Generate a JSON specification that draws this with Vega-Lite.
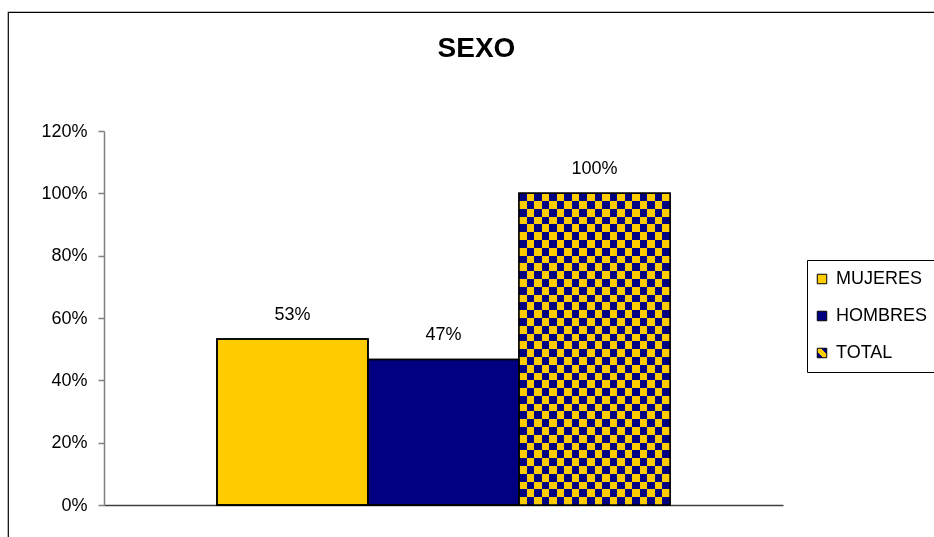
{
  "$schema": "https://vega.github.io/schema/vega-lite/v6.json",
  "autosize": "none",
  "width": 929,
  "height": 528,
  "padding": {"left": 8, "top": 12, "right": -3, "bottom": -3},
  "background": "white",
  "title": {"text": "SEXO", "font": "Liberation Sans", "fontSize": 28, "fontWeight": "bold", "color": "black", "anchor": "middle", "baseline": "alphabetic", "offset": -73, "dx": 4},
  "data": {"values": [
    {"sexo": "MUJERES", "pct": 0.533},
    {"sexo": "HOMBRES", "pct": 0.467},
    {"sexo": "TOTAL", "pct": 1.0}
  ]},
  "encoding": {
    "x": {"field": "sexo", "type": "nominal", "sort": null,
      "scale": {"type": "band", "domain": ["MUJERES", "HOMBRES", "TOTAL"], "range": [96, 775], "paddingInner": 0, "paddingOuter": 0.748, "align": 0.5},
      "axis": {"orient": "bottom", "offset": -35, "labels": false, "ticks": false, "title": null, "domainColor": "#404040", "domainWidth": 1.5, "grid": false}},
    "y": {"field": "pct", "type": "quantitative",
      "scale": {"domain": [0, 1.2], "range": [493, 119], "nice": false, "zero": true},
      "axis": {"orient": "left", "offset": -96, "values": [0, 0.2, 0.4, 0.6, 0.8, 1.0, 1.2], "format": ".0%", "title": null, "grid": false,
        "domainColor": "#808080", "domainWidth": 1.5, "tickColor": "#808080", "tickWidth": 1.5, "tickSize": 6,
        "labelFont": "Liberation Sans", "labelFontSize": 18, "labelColor": "black", "labelPadding": 11}}
  },
  "layer": [
    {
      "mark": {"type": "bar", "stroke": "black", "strokeWidth": 1.5},
      "encoding": {
        "color": {"field": "sexo", "type": "nominal",
          "scale": {"domain": ["MUJERES", "HOMBRES", "TOTAL"], "range": ["#FFCC00", "#000080", {"expr": "{gradient: 'linear', x1: 1, y1: 0, x2: 0, y2: 1, stops: [{offset: 0, color: '#000080'}, {offset: 0.3, color: '#000080'}, {offset: 0.3, color: '#FFCC00'}, {offset: 0.7, color: '#FFCC00'}, {offset: 0.7, color: '#000080'}, {offset: 1, color: '#000080'}]}"}]},
          "legend": {
            "orient": "none", "legendX": 799, "legendY": 248, "title": null,
            "symbolType": "square", "symbolSize": 90, "symbolStrokeColor": "black", "symbolStrokeWidth": 1,
            "symbolOffset": -4,
            "labelFont": "Liberation Sans", "labelFontSize": 18, "labelColor": "black", "labelOffset": 5,
            "rowPadding": 19, "padding": 10, "strokeColor": "black", "fillColor": "white",
            "encode": {"symbols": {"update": {
              "stroke": {"value": "black"},
              "strokeWidth": {"value": 1}
            }}}
          }}
      }
    },
    {
      "transform": [{"filter": "datum.sexo === 'TOTAL'"}],
      "mark": {"type": "bar", "fill": "#FFCC00", "strokeWidth": 0}
    },
    {
      "transform": [{"filter": "datum.sexo === 'TOTAL'"}],
      "mark": {"type": "bar", "blend": "difference", "strokeWidth": 0, "fill": {"gradient": "linear", "x1": 0, "y1": 0, "x2": 1, "y2": 0, "stops": [
        {"offset":0,"color":"#FFCC80"},{"offset":0.05,"color":"#FFCC80"},
        {"offset":0.05,"color":"#000000"},{"offset":0.1,"color":"#000000"},
        {"offset":0.1,"color":"#FFCC80"},{"offset":0.15,"color":"#FFCC80"},
        {"offset":0.15,"color":"#000000"},{"offset":0.2,"color":"#000000"},
        {"offset":0.2,"color":"#FFCC80"},{"offset":0.25,"color":"#FFCC80"},
        {"offset":0.25,"color":"#000000"},{"offset":0.3,"color":"#000000"},
        {"offset":0.3,"color":"#FFCC80"},{"offset":0.35,"color":"#FFCC80"},
        {"offset":0.35,"color":"#000000"},{"offset":0.4,"color":"#000000"},
        {"offset":0.4,"color":"#FFCC80"},{"offset":0.45,"color":"#FFCC80"},
        {"offset":0.45,"color":"#000000"},{"offset":0.5,"color":"#000000"},
        {"offset":0.5,"color":"#FFCC80"},{"offset":0.55,"color":"#FFCC80"},
        {"offset":0.55,"color":"#000000"},{"offset":0.6,"color":"#000000"},
        {"offset":0.6,"color":"#FFCC80"},{"offset":0.65,"color":"#FFCC80"},
        {"offset":0.65,"color":"#000000"},{"offset":0.7,"color":"#000000"},
        {"offset":0.7,"color":"#FFCC80"},{"offset":0.75,"color":"#FFCC80"},
        {"offset":0.75,"color":"#000000"},{"offset":0.8,"color":"#000000"},
        {"offset":0.8,"color":"#FFCC80"},{"offset":0.85,"color":"#FFCC80"},
        {"offset":0.85,"color":"#000000"},{"offset":0.9,"color":"#000000"},
        {"offset":0.9,"color":"#FFCC80"},{"offset":0.95,"color":"#FFCC80"},
        {"offset":0.95,"color":"#000000"},{"offset":1,"color":"#000000"}
      ]}}
    },
    {
      "transform": [{"filter": "datum.sexo === 'TOTAL'"}],
      "mark": {"type": "bar", "blend": "difference", "strokeWidth": 0, "fill": {"gradient": "linear", "x1": 0, "y1": 0, "x2": 0, "y2": 1, "stops": [
        {"offset":0,"color":"#000000"},{"offset":0.025,"color":"#000000"},
        {"offset":0.025,"color":"#FFCC80"},{"offset":0.05,"color":"#FFCC80"},
        {"offset":0.05,"color":"#000000"},{"offset":0.075,"color":"#000000"},
        {"offset":0.075,"color":"#FFCC80"},{"offset":0.1,"color":"#FFCC80"},
        {"offset":0.1,"color":"#000000"},{"offset":0.125,"color":"#000000"},
        {"offset":0.125,"color":"#FFCC80"},{"offset":0.15,"color":"#FFCC80"},
        {"offset":0.15,"color":"#000000"},{"offset":0.175,"color":"#000000"},
        {"offset":0.175,"color":"#FFCC80"},{"offset":0.2,"color":"#FFCC80"},
        {"offset":0.2,"color":"#000000"},{"offset":0.225,"color":"#000000"},
        {"offset":0.225,"color":"#FFCC80"},{"offset":0.25,"color":"#FFCC80"},
        {"offset":0.25,"color":"#000000"},{"offset":0.275,"color":"#000000"},
        {"offset":0.275,"color":"#FFCC80"},{"offset":0.3,"color":"#FFCC80"},
        {"offset":0.3,"color":"#000000"},{"offset":0.325,"color":"#000000"},
        {"offset":0.325,"color":"#FFCC80"},{"offset":0.35,"color":"#FFCC80"},
        {"offset":0.35,"color":"#000000"},{"offset":0.375,"color":"#000000"},
        {"offset":0.375,"color":"#FFCC80"},{"offset":0.4,"color":"#FFCC80"},
        {"offset":0.4,"color":"#000000"},{"offset":0.425,"color":"#000000"},
        {"offset":0.425,"color":"#FFCC80"},{"offset":0.45,"color":"#FFCC80"},
        {"offset":0.45,"color":"#000000"},{"offset":0.475,"color":"#000000"},
        {"offset":0.475,"color":"#FFCC80"},{"offset":0.5,"color":"#FFCC80"},
        {"offset":0.5,"color":"#000000"},{"offset":0.525,"color":"#000000"},
        {"offset":0.525,"color":"#FFCC80"},{"offset":0.55,"color":"#FFCC80"},
        {"offset":0.55,"color":"#000000"},{"offset":0.575,"color":"#000000"},
        {"offset":0.575,"color":"#FFCC80"},{"offset":0.6,"color":"#FFCC80"},
        {"offset":0.6,"color":"#000000"},{"offset":0.625,"color":"#000000"},
        {"offset":0.625,"color":"#FFCC80"},{"offset":0.65,"color":"#FFCC80"},
        {"offset":0.65,"color":"#000000"},{"offset":0.675,"color":"#000000"},
        {"offset":0.675,"color":"#FFCC80"},{"offset":0.7,"color":"#FFCC80"},
        {"offset":0.7,"color":"#000000"},{"offset":0.725,"color":"#000000"},
        {"offset":0.725,"color":"#FFCC80"},{"offset":0.75,"color":"#FFCC80"},
        {"offset":0.75,"color":"#000000"},{"offset":0.775,"color":"#000000"},
        {"offset":0.775,"color":"#FFCC80"},{"offset":0.8,"color":"#FFCC80"},
        {"offset":0.8,"color":"#000000"},{"offset":0.825,"color":"#000000"},
        {"offset":0.825,"color":"#FFCC80"},{"offset":0.85,"color":"#FFCC80"},
        {"offset":0.85,"color":"#000000"},{"offset":0.875,"color":"#000000"},
        {"offset":0.875,"color":"#FFCC80"},{"offset":0.9,"color":"#FFCC80"},
        {"offset":0.9,"color":"#000000"},{"offset":0.925,"color":"#000000"},
        {"offset":0.925,"color":"#FFCC80"},{"offset":0.95,"color":"#FFCC80"},
        {"offset":0.95,"color":"#000000"},{"offset":0.975,"color":"#000000"},
        {"offset":0.975,"color":"#FFCC80"},{"offset":1,"color":"#FFCC80"}
      ]}}
    },
    {
      "mark": {"type": "bar", "fill": "transparent", "stroke": "black", "strokeWidth": 1.5}
    },
    {
      "mark": {"type": "text", "baseline": "alphabetic", "dy": -19, "font": "Liberation Sans", "fontSize": 18, "color": "black"},
      "encoding": {"text": {"field": "pct", "type": "quantitative", "format": ".0%"}}
    }
  ],
  "config": {
    "view": {"stroke": "black", "strokeWidth": 1.2},
    "font": "Liberation Sans"
  }
}
